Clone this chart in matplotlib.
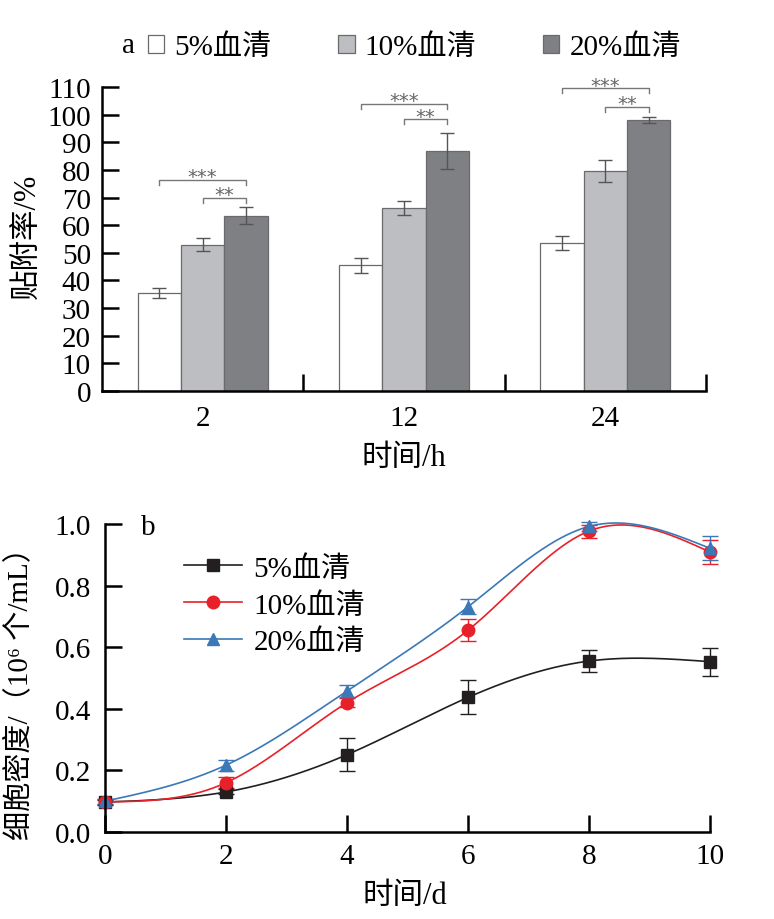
import numpy as np
import matplotlib
matplotlib.use("Agg")
import matplotlib.pyplot as plt
from matplotlib.patches import Patch
from matplotlib.lines import Line2D

plt.rcParams['font.family'] = ['Liberation Serif', 'Noto Sans CJK SC', 'DejaVu Serif']
plt.rcParams['axes.unicode_minus'] = False

# ---------------- data (a) ----------------
groups_a = ['2', '12', '24']
labels_a = ['5%血清', '10%血清', '20%血清']
mean_5 = [35.5, 45.5, 53.5]
err_5 = [1.8, 2.8, 2.6]
mean_10 = [53.0, 66.2, 79.7]
err_10 = [2.4, 2.4, 4.0]
mean_20 = [63.5, 87.0, 98.0]
err_20 = [3.0, 6.5, 1.0]
sig_high = ['***', '***', '***']   # 5% vs 20%
sig_low = ['**', '**', '**']       # 10% vs 20%
sig_high_y = [76.5, 104.0, 109.5]
sig_low_y = [69.8, 98.3, 102.7]

# ---------------- data (b) ----------------
days = [0, 2, 4, 6, 8, 10]
b_labels = ['5%血清', '10%血清', '20%血清']
dens_5 = [0.097, 0.130, 0.251, 0.437, 0.555, 0.553]
derr_5 = [0.008, 0.008, 0.053, 0.055, 0.036, 0.046]
dens_10 = [0.098, 0.160, 0.420, 0.655, 0.977, 0.909]
derr_10 = [0.008, 0.018, 0.014, 0.036, 0.021, 0.038]
dens_20 = [0.100, 0.217, 0.458, 0.731, 0.992, 0.921]
derr_20 = [0.008, 0.018, 0.019, 0.024, 0.015, 0.039]


def natural_spline(x, y, xs):
    x = np.asarray(x, float); y = np.asarray(y, float)
    n = len(x)
    h = np.diff(x)
    A = np.zeros((n, n)); r = np.zeros(n)
    A[0, 0] = 1; A[-1, -1] = 1
    for i in range(1, n - 1):
        A[i, i - 1] = h[i - 1]
        A[i, i] = 2 * (h[i - 1] + h[i])
        A[i, i + 1] = h[i]
        r[i] = 6 * ((y[i + 1] - y[i]) / h[i] - (y[i] - y[i - 1]) / h[i - 1])
    M = np.linalg.solve(A, r)
    out = np.empty_like(xs)
    for k, t in enumerate(xs):
        i = min(max(np.searchsorted(x, t) - 1, 0), n - 2)
        a = x[i + 1] - t; b = t - x[i]
        out[k] = (M[i] * a**3 + M[i + 1] * b**3) / (6 * h[i]) \
            + (y[i] / h[i] - M[i] * h[i] / 6) * a + (y[i + 1] / h[i] - M[i + 1] * h[i] / 6) * b
    return out


W, H = 774, 920
FS = 21
fig = plt.figure(figsize=(W / 100, H / 100), dpi=100)

# ---------------- panel a ----------------
ax1 = fig.add_axes([102 / W, 1 - 392 / H, (706 - 102) / W, (392 - 88) / H])
bw = 0.215
xs = np.arange(len(groups_a))
face = ['white', '#bdbec2', '#7f8084']
means = [mean_5, mean_10, mean_20]
errs = [err_5, err_10, err_20]
handles = []
for j in range(3):
    ax1.bar(xs + (j - 1) * bw, means[j], width=bw, color=face[j],
            edgecolor='#6a6a6a', linewidth=0.9,
            yerr=errs[j], capsize=5,
            error_kw=dict(ecolor='#555555', elinewidth=1.0, capthick=1.0))
    handles.append(Patch(facecolor=face[j], edgecolor='#6a6a6a', linewidth=0.9, label=labels_a[j]))

leg_h = 1.8
for i in range(3):
    x_w = xs[i] - bw; x_g = xs[i]; x_d = xs[i] + bw
    yh = sig_high_y[i]; yl = sig_low_y[i]
    ax1.plot([x_w, x_w, x_d, x_d], [yh - leg_h, yh, yh, yh - leg_h], color='#777777', lw=1.0, clip_on=False)
    ax1.plot([x_g, x_g, x_d, x_d], [yl - leg_h, yl, yl, yl - leg_h], color='#777777', lw=1.0, clip_on=False)
    ax1.text((x_w + x_d) / 2, yh - 0.8, sig_high[i], ha='center', va='baseline', fontsize=14,
             color='#666666', family='DejaVu Sans')
    ax1.text((x_g + x_d) / 2, yl - 0.8, sig_low[i], ha='center', va='baseline', fontsize=14,
             color='#666666', family='DejaVu Sans')

ax1.set_xlim(-0.5, 2.5)
ax1.set_ylim(0, 110)
ax1.set_yticks(np.arange(0, 111, 10))
ax1.set_xticks(xs)
ax1.set_xticklabels(groups_a)
ax1.set_xticks([0.5, 1.5, 2.5], minor=True)
ax1.tick_params(axis='x', which='major', length=0, pad=10, labelsize=FS)
ax1.tick_params(axis='x', which='minor', direction='in', length=12, width=1.8)
ax1.tick_params(axis='y', direction='in', length=12, width=1.8, pad=8, labelsize=FS)
for s in ['top', 'right']:
    ax1.spines[s].set_visible(False)
for s in ['left', 'bottom']:
    ax1.spines[s].set_linewidth(1.8)
ax1.set_ylabel('贴附率/%', fontsize=22)
ax1.yaxis.set_label_coords(-0.098, 0.513)
ax1.set_xlabel('时间/h', fontsize=22)
ax1.xaxis.set_label_coords(0.5, -0.17)

fig.text(122 / W, 1 - 46 / H, 'a', fontsize=FS, va='center', ha='left')
fig.legend(handles=handles, loc='center left', bbox_to_anchor=(148 / W, 1 - 48 / H),
           ncol=3, frameon=False, fontsize=FS, handlelength=0.55, handleheight=0.55,
           handletextpad=0.35, columnspacing=2.3, borderpad=0, borderaxespad=0)

# ---------------- panel b ----------------
ax2 = fig.add_axes([105 / W, 1 - 833 / H, (710 - 105) / W, (833 - 525) / H])
cols = ['#231f20', '#e8202a', '#3a78b8']
mk = ['s', 'o', '^']
dens = [dens_5, dens_10, dens_20]
derrs = [derr_5, derr_10, derr_20]
xfine = np.linspace(0, 10, 300)
bh = []
for j in range(3):
    ax2.plot(xfine, natural_spline(days, dens[j], xfine), color=cols[j], lw=1.2, clip_on=False)
    ax2.errorbar(days, dens[j], yerr=derrs[j], fmt=mk[j], color=cols[j], ms=9,
                 ecolor=cols[j], elinewidth=1.0, capsize=6, capthick=1.0, clip_on=False)
    bh.append(Line2D([0], [0], color=cols[j], lw=1.2, marker=mk[j], ms=9, label=b_labels[j]))

ax2.set_xlim(0, 10)
ax2.set_ylim(0, 1.0)
ax2.set_xticks(days)
ax2.set_yticks(np.arange(0, 1.01, 0.2))
ax2.set_yticklabels(['%.1f' % v for v in np.arange(0, 1.01, 0.2)])
ax2.tick_params(axis='both', direction='in', length=12, width=1.8, labelsize=FS)
ax2.tick_params(axis='x', pad=8)
ax2.tick_params(axis='y', pad=10)
for s in ['top', 'right']:
    ax2.spines[s].set_visible(False)
for s in ['left', 'bottom']:
    ax2.spines[s].set_linewidth(1.8)
ax2.set_ylabel('细胞密度/（10⁶ 个/mL）', fontsize=21)
ax2.yaxis.set_label_coords(-0.119, 0.477)
ax2.set_xlabel('时间/d', fontsize=22)
ax2.xaxis.set_label_coords(0.496, -0.16)
ax2.text(0.06, 0.99, 'b', transform=ax2.transAxes, fontsize=FS, va='center', ha='left')
ax2.legend(handles=bh, loc='upper left', bbox_to_anchor=(0.13, 0.90), frameon=False,
           fontsize=FS, handlelength=2.0, handletextpad=0.4, labelspacing=0.35,
           borderpad=0, borderaxespad=0)

fig.savefig('out.png', dpi=100)
